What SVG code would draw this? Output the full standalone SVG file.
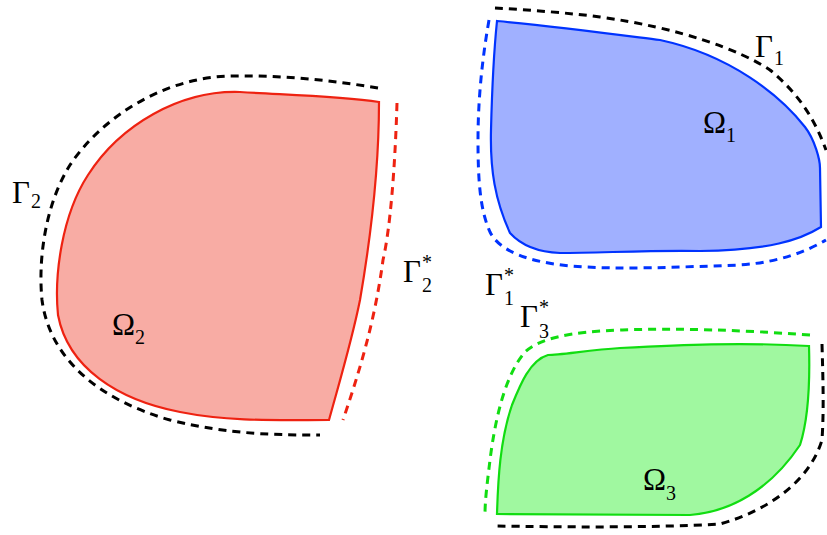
<svg xmlns="http://www.w3.org/2000/svg" width="827" height="535" viewBox="0 0 827 535">
<style>
.dash{fill:none;stroke-width:3;stroke-dasharray:8,6}
.k{stroke:#000}
.t{font-family:"Liberation Serif","DejaVu Serif",serif;font-size:31px;fill:#000}
.s{font-size:20px}
</style>
<rect width="827" height="535" fill="#fff"/>
<g id="omega2">
<path d="M379,102 C340,96 290,95 240,92 C180,90 120,125 88,175 C62,215 54,275 58,315 C68,368 118,400 180,412 C230,422 280,420 329,420 C340,380 352,340 360,300 C372,230 379,160 379,102 Z" fill="#f8aca4" stroke="#ee2211" stroke-width="2.2"/>
</g>
<g id="omega1">
<path d="M497,21 C560,27 620,35 660,40 C730,55 780,95 805,127 C815,140 820,160 820,168 L821,227 C800,240 770,250 700,251 C650,250 600,253 560,253 C535,252 520,244 510,233 C495,200 490,170 491,130 C492,90 494,50 497,21 Z" fill="#a0b0ff" stroke="#0033ff" stroke-width="2.2"/>
</g>
<g id="omega3">
<path d="M809,346 C740,342 680,345 620,348 C590,350 560,355 548,355 C530,360 520,385 512,405 C500,440 498,480 497,514 L690,515 C730,512 770,490 800,445 C808,420 810,380 809,346 Z" fill="#a0f8a0" stroke="#11dd11" stroke-width="2.2"/>
</g>
<g id="connectors">
<path class="dash k" d="M378,88 C330,80 280,75 230,76 C160,78 100,120 70,165 C45,205 38,260 42,300 C50,360 100,400 170,420 C230,435 280,435 320,435"/>
<path class="dash" stroke="#ee2211" d="M397,103 C395,170 390,230 383,260 C375,320 360,370 343,420"/>
<path class="dash k" d="M495,8 C530,10 570,13 600,17 C680,28 740,50 770,70 C800,95 815,120 826,150"/>
<path class="dash" stroke="#0033ff" d="M489,20 C482,60 478,100 478,140 C478,180 480,210 490,232 C500,252 530,262 570,266 C620,270 680,267 740,265 C780,262 805,252 826,240"/>
<path class="dash" stroke="#11dd11" d="M810,335 C740,330 680,328 620,330 C570,332 540,338 525,352 C505,375 495,420 490,460 C487,485 485,500 485,515"/>
<path class="dash k" d="M822,344 C823,380 824,410 822,440 C810,480 770,510 720,524 C650,528 560,527 495,526"/>
</g>
<g id="labels">
<text class="t" x="12" y="203">Γ<tspan class="s" dx="1" dy="5">2</tspan></text>
<text class="t" x="403" y="282">Γ<tspan class="s" dx="1" dy="10">2</tspan><tspan class="s" dx="-10" dy="-23">*</tspan></text>
<text class="t" x="485" y="295">Γ<tspan class="s" dx="1" dy="10">1</tspan><tspan class="s" dx="-10" dy="-23">*</tspan></text>
<text class="t" x="520" y="327">Γ<tspan class="s" dx="1" dy="11">3</tspan><tspan class="s" dx="-10" dy="-24">*</tspan></text>
<text class="t" x="755" y="57">Γ<tspan class="s" dx="1" dy="8">1</tspan></text>
<text class="t" x="703" y="133">Ω<tspan class="s" dy="9">1</tspan></text>
<text class="t" x="112" y="335">Ω<tspan class="s" dy="9">2</tspan></text>
<text class="t" x="643" y="490">Ω<tspan class="s" dy="10">3</tspan></text>
</g>
</svg>
